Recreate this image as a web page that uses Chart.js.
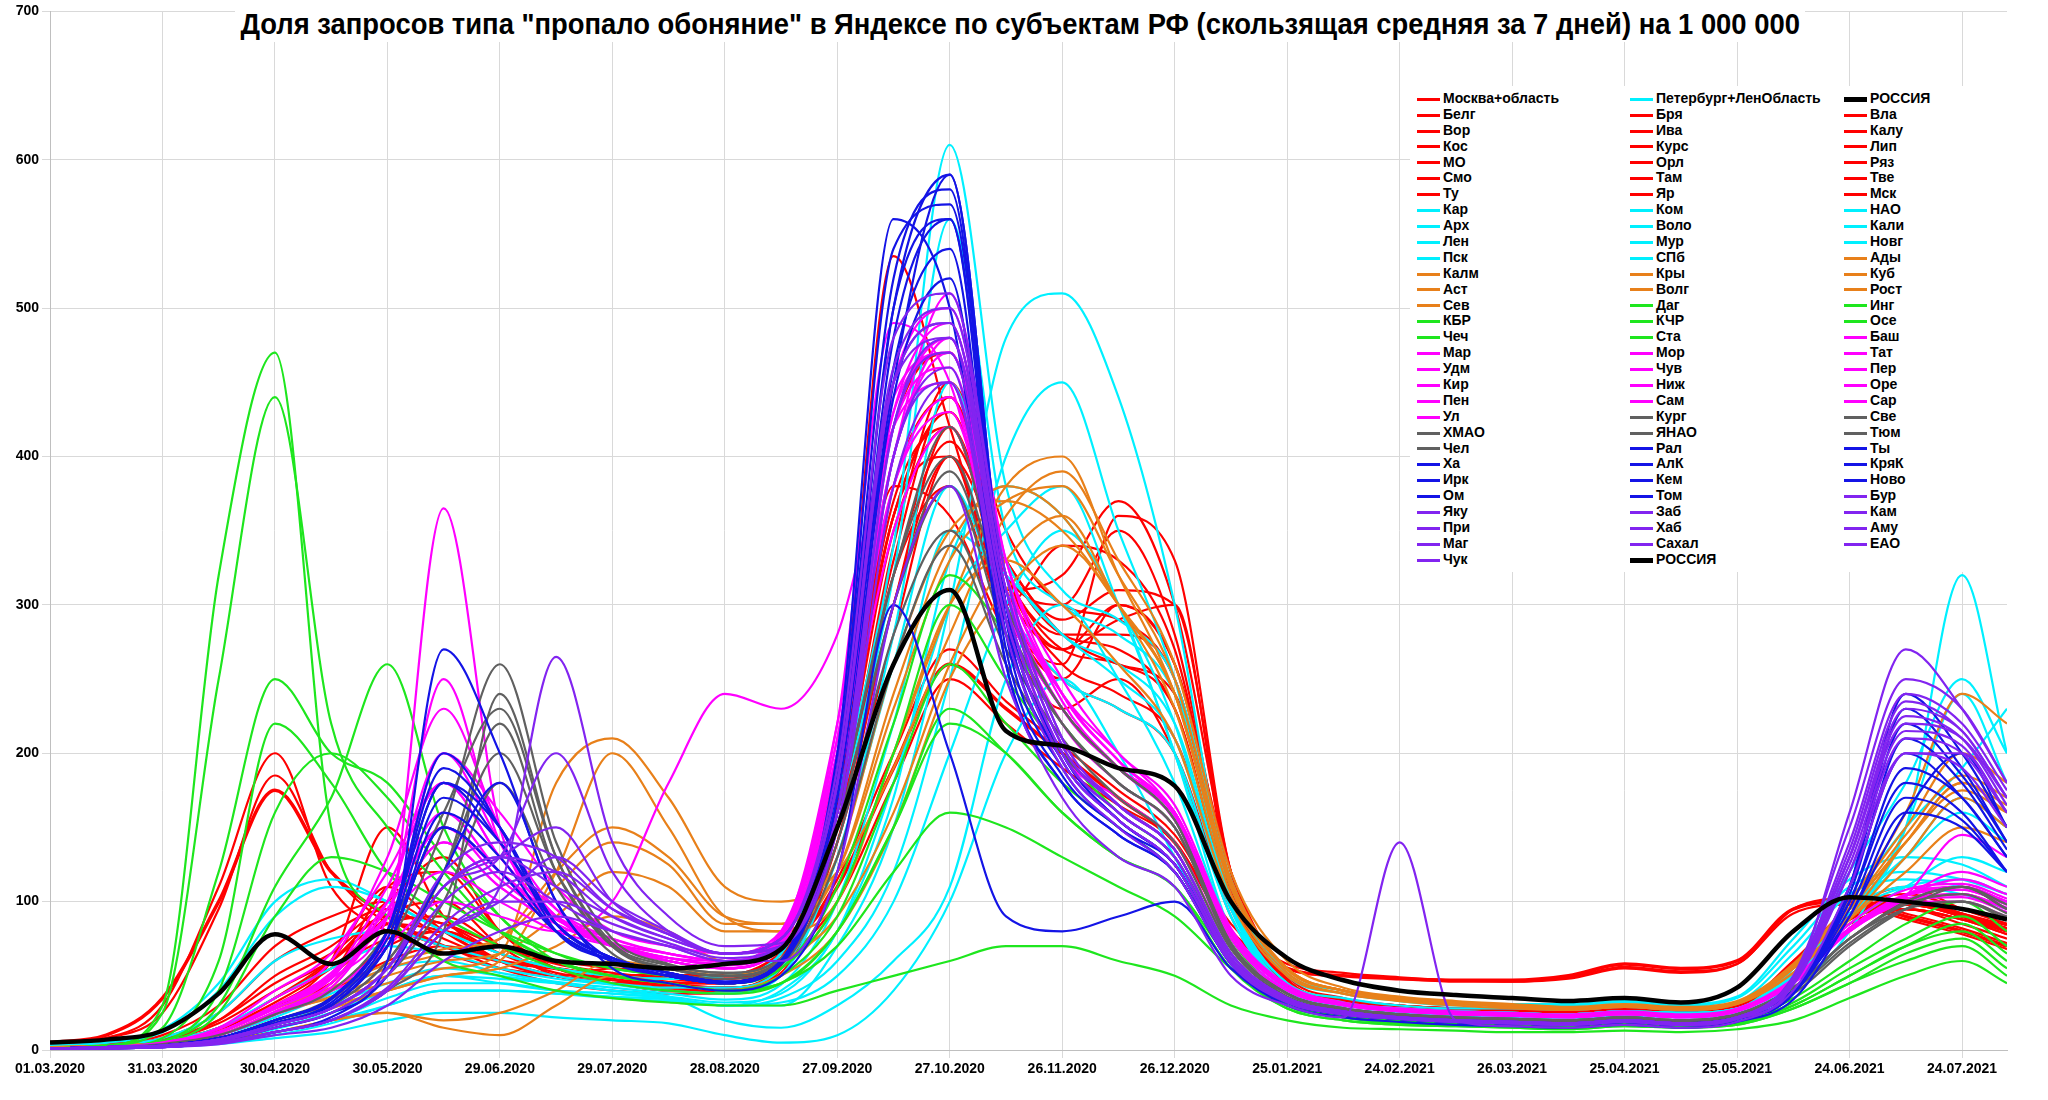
<!DOCTYPE html>
<html>
<head>
<meta charset="utf-8">
<script src="https://cdn.jsdelivr.net/npm/chart.js@4.4.1/dist/chart.umd.min.js"></script>
<style>
  body { margin: 0; background: #fff; }
  #wrap { position: relative; width: 2048px; height: 1100px; }
  #title {
    position: absolute; left: 235px; top: 6px; white-space: nowrap; transform-origin: 0 0;
    font: bold 30px "Liberation Sans", Arial, sans-serif;
    color: #000; background: #fff; line-height: 36px; padding: 0 6px;
  }
  #legend {
    position: absolute; left: 1410px; top: 86px; width: 598px; height: 486px; background: #fff;
    font: bold 14px "Liberation Sans", Arial, sans-serif;
  }
  .col { position: absolute; top: 5px; }
  .item { height: 15.9px; line-height: 15.9px; white-space: nowrap; }
  .item i { display: inline-block; width: 23px; height: 3px; vertical-align: middle; margin-right: 3px; }
</style>
</head>
<body>
<div id="wrap">
  <canvas id="chart" width="2048" height="1100"></canvas>
  <div id="title">Доля запросов типа "пропало обоняние" в Яндексе по субъектам РФ (скользящая средняя за 7 дней) на 1 000 000</div>
  <div id="legend"></div>
</div>
<script>
/* ================= DATA ================= */
const START = new Date(2020, 2, 1);
const DAYS = [0,15,30,45,60,75,90,105,120,135,150,165,180,195,210,225,240,255,270,285,300,315,330,345,360,375,390,405,420,435,450,465,480,495,510,522];
const X_TICKS = [0,30,60,90,120,150,180,210,240,270,300,330,360,390,420,450,480,510];

const RUSSIA = [5,7,13,38,78,58,80,65,70,60,58,55,58,68,150,260,310,215,205,190,178,100,62,47,40,37,35,33,35,32,42,80,103,100,95,88];
const MOSCOW_REGION = [5,10,35,100,175,120,90,70,60,55,50,50,50,65,110,190,260,230,200,170,140,80,55,50,48,47,47,50,58,55,60,95,100,90,80,70];

const RED_NAMES = ["Мск","МО","Белг","Вор","Кос","Смо","Ту","Бря","Ива","Курс","Орл","Там","Яр","Вла","Калу","Лип","Ряз","Тве"];
const RED_VALUES = [
  [4,8,30,110,200,110,80,65,55,50,45,45,45,60,100,180,250,220,190,165,140,80,55,50,48,46,46,48,55,52,58,92,98,88,78,68],
  [4,8,25,95,185,120,85,70,60,55,50,48,48,62,115,200,270,235,205,175,145,85,58,52,49,47,46,49,56,53,58,95,102,92,82,72],
  [2,3,6,15,35,60,110,80,60,50,45,40,40,55,150,300,420,300,250,300,260,120,50,35,30,28,27,26,28,26,30,55,90,100,90,80],
  [2,3,7,20,50,70,100,130,80,55,50,45,42,58,160,330,440,320,270,290,300,110,45,32,28,26,25,24,26,25,28,60,95,110,95,85],
  [1,2,4,10,25,40,60,70,60,50,55,50,45,60,170,380,360,280,230,250,200,90,40,30,27,25,24,23,25,24,27,50,85,95,85,75],
  [2,3,6,14,30,60,150,90,60,50,45,40,40,55,140,280,400,330,280,260,240,100,45,33,30,28,26,25,27,25,29,55,85,95,88,80],
  [2,4,8,25,60,80,95,75,60,50,45,45,45,60,180,360,430,320,300,350,280,110,45,34,30,28,27,26,28,27,30,60,95,105,95,85],
  [1,2,5,12,30,45,80,70,55,45,40,38,38,55,150,320,380,290,260,360,330,120,48,32,28,26,25,24,26,25,28,52,88,95,88,78],
  [1,3,6,14,35,55,75,80,65,55,50,45,45,60,200,420,470,320,260,240,210,100,45,32,28,26,25,24,26,25,28,58,92,102,92,82],
  [1,2,5,12,28,45,90,100,70,50,45,40,40,52,140,300,400,310,320,370,300,120,48,33,29,27,26,25,27,25,28,55,88,98,90,80],
  [1,2,4,10,25,40,70,80,60,50,45,42,40,55,150,340,450,350,300,290,250,110,45,32,28,26,25,24,26,24,27,52,85,95,88,78],
  [1,2,5,12,30,50,80,70,60,50,45,42,42,55,160,360,400,300,340,330,270,110,45,33,29,27,26,25,27,25,28,55,88,98,90,80],
  [1,3,6,15,35,60,90,85,70,60,55,50,48,62,190,535,420,300,250,230,200,95,42,32,28,26,25,24,26,25,28,58,90,100,92,82],
  [1,2,5,14,32,55,85,90,70,58,52,48,45,60,170,380,440,330,280,270,230,100,44,33,29,27,26,25,27,25,28,56,90,100,90,82],
  [2,4,10,30,70,90,100,80,60,50,45,45,45,60,160,350,420,310,270,300,260,110,47,34,30,28,27,26,28,27,30,58,92,102,92,84],
  [1,2,5,12,30,50,110,120,80,55,48,44,42,55,150,320,410,330,290,310,300,120,47,33,29,27,26,25,27,25,28,55,88,98,90,80],
  [1,3,7,20,45,65,90,85,65,52,47,43,42,56,165,360,430,320,280,280,250,105,45,33,29,27,26,25,27,25,28,56,90,100,90,80],
  [1,3,6,18,40,60,85,80,65,55,50,46,45,58,170,370,420,320,270,260,230,100,45,33,29,27,26,25,27,25,28,57,90,100,91,82]
];

const CYAN_NAMES = ["Петербург+ЛенОбласть","СПб","Лен","Кар","Арх","Пск","Ком","Воло","Мур","НАО","Кали","Новг"];
const CYAN_VALUES = [
  [3,5,12,40,90,110,100,80,65,55,50,48,50,65,160,320,560,350,300,280,240,110,50,38,33,30,30,30,32,30,35,70,110,120,115,105],
  [3,5,14,45,100,115,100,80,65,55,50,48,50,65,170,340,610,380,310,290,250,115,52,40,34,31,31,31,33,31,36,75,115,130,125,110],
  [2,3,8,25,60,75,80,70,60,50,45,42,42,55,130,280,450,330,280,260,220,100,45,35,30,28,28,27,29,27,32,65,105,115,110,100],
  [1,2,4,8,15,25,40,50,45,40,38,35,30,40,80,180,300,350,380,300,200,80,40,30,27,25,24,23,25,24,27,50,100,150,190,230],
  [1,2,3,6,12,20,30,40,40,38,35,33,30,35,60,120,250,400,450,350,250,100,45,32,28,26,25,24,26,25,28,50,90,130,170,150],
  [1,2,3,6,12,20,35,45,45,40,38,35,30,30,70,150,300,480,510,440,300,100,42,30,27,25,24,23,25,24,27,50,85,110,130,120],
  [1,2,3,5,10,18,30,40,40,38,36,34,30,32,50,100,200,300,350,300,200,90,40,30,27,25,24,23,25,24,27,55,120,180,250,200],
  [1,2,4,8,18,30,45,55,50,45,40,36,32,38,80,170,330,380,360,300,220,95,42,31,28,26,25,24,26,25,28,52,95,130,160,140],
  [1,2,3,6,14,25,40,50,48,45,40,36,20,15,30,60,110,250,300,250,180,80,38,28,25,23,22,21,23,22,25,45,90,150,320,200],
  [0,1,2,4,8,12,20,25,25,22,20,18,10,5,10,40,100,200,250,200,130,60,30,22,20,18,17,16,18,17,20,40,80,150,240,180],
  [2,3,6,15,35,55,70,65,55,48,44,40,38,50,130,260,380,300,250,230,200,90,42,31,28,26,25,24,26,25,28,55,95,110,105,95],
  [1,2,4,10,22,38,55,60,52,46,42,38,34,44,100,220,350,320,280,250,210,95,42,31,28,26,25,24,26,25,28,52,92,110,115,105]
];

const ORANGE_NAMES = ["Калм","Аст","Сев","Кры","Волг","Ады","Куб","Рост"];
const ORANGE_VALUES = [
  [1,2,4,8,20,30,40,50,60,120,200,150,90,80,100,200,300,380,400,320,240,110,55,40,35,32,30,28,30,28,32,55,100,160,240,220],
  [1,2,4,10,25,35,45,55,65,180,210,170,110,100,120,190,280,360,390,330,260,120,60,42,36,33,31,29,31,29,33,58,100,150,200,180],
  [1,2,3,6,12,20,25,15,10,30,50,45,40,50,80,150,250,310,340,300,240,110,55,40,35,32,30,28,30,28,32,55,90,140,180,160],
  [1,2,3,6,12,20,25,20,25,40,60,55,50,60,90,160,260,330,360,300,230,105,52,38,34,31,29,27,29,27,31,52,88,130,170,150],
  [2,3,5,12,28,40,55,65,75,120,150,130,90,85,120,230,330,370,380,320,250,115,55,40,35,32,30,28,30,28,32,56,95,140,180,165],
  [1,2,3,8,18,28,40,50,55,70,90,80,60,60,100,200,300,330,300,260,210,100,50,38,33,30,28,27,29,27,31,52,88,120,150,140],
  [1,2,4,10,24,36,50,60,65,90,120,110,80,80,120,240,340,380,360,300,240,110,54,40,35,32,30,28,30,28,32,56,95,140,175,160],
  [2,3,5,12,28,42,58,68,75,110,140,125,85,85,130,260,350,370,350,300,240,112,55,40,35,32,30,28,30,28,32,57,96,145,185,170]
];

const GREEN_NAMES = ["КБР","Чеч","Даг","КЧР","Ста","Инг","Осе"];
const GREEN_VALUES = [
  [1,2,8,60,220,180,120,90,70,55,45,40,38,45,80,150,220,200,160,130,110,60,30,22,18,17,16,15,17,16,18,30,50,70,80,60],
  [1,3,30,320,470,150,90,60,50,40,35,32,30,30,40,50,60,70,70,60,50,30,20,15,14,13,12,12,13,12,14,20,35,50,60,45],
  [1,3,25,250,440,220,150,110,80,60,50,45,40,45,70,120,160,150,130,110,90,55,28,20,17,16,15,14,16,15,17,28,45,60,70,50],
  [1,2,6,40,160,200,170,120,80,60,50,45,40,50,90,180,260,220,180,150,120,60,30,22,18,17,16,15,17,16,18,30,50,70,85,65],
  [1,2,5,25,90,130,120,100,80,65,55,50,45,55,110,220,320,280,220,180,150,75,35,25,20,18,17,16,18,17,19,35,60,85,100,80],
  [1,3,15,120,250,200,180,130,90,60,50,45,40,45,80,150,230,200,160,130,110,55,28,20,17,16,15,14,16,15,17,28,45,65,75,55],
  [1,2,6,30,110,170,260,150,90,65,55,50,45,55,100,200,300,250,200,160,130,65,32,23,19,17,16,15,17,16,18,32,55,75,90,70]
];

const MAGENTA_NAMES = ["Мар","Удм","Кир","Пен","Ул","Мор","Чув","Ниж","Сам","Баш","Тат","Пер","Оре","Сар"];
const MAGENTA_VALUES = [
  [1,2,4,10,25,40,80,365,150,90,70,60,55,75,200,400,480,300,200,170,140,70,40,30,26,24,23,22,24,22,26,45,80,100,100,90],
  [1,2,4,12,30,50,90,120,100,80,70,60,55,70,180,350,420,300,220,180,150,75,40,30,26,24,23,22,24,22,26,45,80,100,105,95],
  [1,2,4,10,25,45,100,200,140,90,70,60,55,70,190,380,440,300,230,190,160,78,42,31,27,25,24,23,25,23,27,46,82,105,110,100],
  [1,2,4,12,30,50,110,180,130,90,70,60,55,72,200,420,460,310,240,200,160,80,42,31,27,25,24,23,25,23,27,46,82,102,105,95],
  [1,2,4,12,28,48,100,150,120,90,72,62,58,75,220,490,450,300,230,190,155,78,42,31,27,25,24,23,25,23,27,46,82,100,105,96],
  [1,2,4,10,24,42,90,140,110,85,70,60,55,70,190,400,470,310,230,190,160,78,42,31,27,25,24,23,25,23,27,45,80,100,103,93],
  [1,2,5,14,35,60,130,230,150,95,72,62,57,74,210,430,490,320,240,195,160,80,42,31,27,25,24,23,25,23,27,46,82,104,108,98],
  [1,2,5,15,40,65,120,180,130,90,75,65,60,78,220,450,500,330,250,200,165,82,44,32,28,26,25,24,26,24,28,48,85,108,112,102],
  [1,2,4,12,30,50,100,160,120,88,72,62,58,74,200,420,480,320,240,195,160,80,42,31,27,25,24,23,25,23,27,46,82,104,108,98],
  [1,2,4,10,26,45,90,140,110,85,70,62,60,80,200,400,510,330,240,195,158,80,42,31,27,25,24,23,25,23,27,46,82,104,110,100],
  [1,2,4,12,30,52,95,150,115,88,72,65,60,78,210,440,470,320,235,190,155,78,42,31,27,25,24,23,25,23,27,46,82,104,115,105],
  [1,2,4,10,24,40,80,200,160,110,80,70,65,80,200,380,430,300,230,190,160,80,42,31,27,25,24,23,25,23,27,46,82,104,120,110],
  [1,2,4,10,24,40,70,100,90,80,100,180,240,230,280,420,450,300,230,190,160,80,42,31,27,25,24,23,25,23,27,46,82,104,110,100],
  [1,2,4,12,28,48,90,250,140,95,75,65,60,76,200,430,470,310,230,190,158,78,42,31,27,25,24,23,25,23,27,46,82,104,145,130]
];

const GRAY_NAMES = ["ХМАО","Чел","Кург","ЯНАО","Све","Тюм"];
const GRAY_VALUES = [
  [1,2,3,8,18,30,60,120,220,120,70,55,50,60,150,300,380,280,220,180,150,70,38,28,24,22,21,20,22,20,24,42,75,95,100,90],
  [1,2,3,8,20,35,70,150,260,140,75,58,52,62,160,320,400,300,230,190,155,72,38,28,24,22,21,20,22,20,24,42,75,100,110,95],
  [1,2,3,6,15,25,50,100,180,110,65,52,48,58,140,280,350,270,210,170,140,68,36,27,23,21,20,19,21,19,23,40,72,95,100,88],
  [0,1,2,5,12,20,40,80,240,130,70,55,50,58,130,260,340,260,200,165,135,65,35,26,22,20,19,18,20,18,22,38,70,95,110,95],
  [1,2,4,10,24,40,80,160,230,130,72,57,52,62,160,320,420,300,230,190,155,72,38,28,24,22,21,20,22,20,24,42,75,100,110,98],
  [1,2,3,8,18,30,60,120,200,120,70,55,50,60,150,300,390,290,220,180,150,70,38,28,24,22,21,20,22,20,24,42,75,98,105,92]
];

const BLUE_NAMES = ["Ха","Ирк","Ом","Рал","АлК","Кем","Том","Ты","КряК","Ново"];
const BLUE_VALUES = [
  [1,2,3,8,20,35,80,200,150,80,60,50,45,60,180,450,590,300,200,160,130,62,34,25,22,20,19,18,20,18,22,40,90,160,150,120],
  [1,2,3,6,15,25,60,270,200,100,60,50,45,58,170,480,560,280,190,150,125,60,33,24,21,19,18,17,19,17,21,38,110,200,170,130],
  [1,2,3,8,18,30,70,150,120,80,60,50,45,60,200,560,500,260,180,145,120,58,32,24,21,19,18,17,19,17,21,38,100,180,160,120],
  [1,2,3,8,20,35,80,180,140,85,62,52,46,60,190,520,580,290,195,155,125,60,33,24,21,19,18,17,19,17,21,38,95,170,155,120],
  [1,2,3,7,17,30,70,160,130,80,60,50,45,58,170,460,540,270,185,150,120,58,32,24,21,19,18,17,19,17,21,38,110,230,190,140],
  [1,2,3,8,20,34,80,190,150,85,62,52,46,60,180,500,590,300,200,155,125,60,33,24,21,19,18,17,19,17,21,38,105,210,180,135],
  [1,2,3,7,17,30,70,150,120,80,60,50,45,58,160,440,520,260,180,145,120,58,32,24,21,19,18,17,19,17,21,38,110,220,185,140],
  [0,1,2,5,12,22,50,120,180,100,55,45,40,50,120,300,200,90,80,90,100,55,30,22,19,17,16,15,17,15,19,34,90,160,200,150],
  [1,2,3,8,18,32,75,170,140,85,62,52,46,60,180,500,560,290,195,155,125,60,33,24,21,19,18,17,19,17,21,38,110,240,200,150],
  [1,2,3,8,20,35,80,180,150,85,62,52,46,60,190,540,570,300,200,155,125,60,33,24,21,19,18,17,19,17,21,38,100,190,170,130]
];

const PURPLE_NAMES = ["Яку","При","Маг","Чук","Заб","Хаб","Сахал","Бур","Кам","Аму","ЕАО"];
const PURPLE_VALUES = [
  [1,2,3,6,15,25,50,100,120,100,80,70,60,70,160,420,480,300,200,160,130,62,34,25,22,20,19,18,20,18,22,50,150,250,230,180],
  [1,2,3,7,17,28,55,110,130,120,90,75,65,75,180,460,500,320,210,165,135,65,35,26,22,20,19,18,20,18,22,45,120,200,200,160],
  [0,1,2,5,12,20,40,80,100,130,100,80,65,70,150,400,450,280,190,150,120,58,32,24,21,19,18,17,19,17,21,45,130,220,210,170],
  [0,1,2,4,10,15,30,60,80,90,80,70,60,60,120,300,380,250,170,130,110,50,30,22,140,20,16,15,17,15,19,40,110,200,190,150],
  [1,2,3,7,17,28,55,110,130,200,120,80,65,75,180,450,490,310,205,165,135,65,35,26,22,20,19,18,20,18,22,48,130,230,215,170],
  [1,2,3,7,17,28,55,110,130,150,100,78,65,75,190,480,510,320,210,165,135,65,35,26,22,20,19,18,20,18,22,48,140,240,220,175],
  [0,1,2,5,12,20,40,80,110,265,140,90,70,72,150,380,450,290,195,155,125,60,33,24,21,19,18,17,19,17,21,45,160,270,230,180],
  [1,2,3,7,17,28,55,120,140,130,95,78,65,75,180,450,490,310,205,165,135,65,35,26,22,20,19,18,20,18,22,48,130,225,210,165],
  [0,1,2,5,12,20,42,85,110,120,95,78,65,70,160,420,470,300,200,160,130,62,34,25,22,20,19,18,20,18,22,45,125,215,205,160],
  [1,2,3,7,17,28,55,110,130,110,90,75,65,75,180,450,480,310,205,165,135,65,35,26,22,20,19,18,20,18,22,48,135,235,215,170],
  [0,1,2,5,12,20,40,80,100,100,85,72,62,70,160,400,460,290,195,155,125,60,33,24,21,19,18,17,19,17,21,44,120,210,200,160]
];

// порядок легенды (по колонкам)
const LEGEND_COLS = [
  ["Москва+область","Белг","Вор","Кос","МО","Смо","Ту","Кар","Арх","Лен","Пск","Калм","Аст","Сев","КБР","Чеч","Мар","Удм","Кир","Пен","Ул","ХМАО","Чел","Ха","Ирк","Ом","Яку","При","Маг","Чук"],
  ["Петербург+ЛенОбласть","Бря","Ива","Курс","Орл","Там","Яр","Ком","Воло","Мур","СПб","Кры","Волг","Даг","КЧР","Ста","Мор","Чув","Ниж","Сам","Кург","ЯНАО","Рал","АлК","Кем","Том","Заб","Хаб","Сахал","РОССИЯ"],
  ["РОССИЯ","Вла","Калу","Лип","Ряз","Тве","Мск","НАО","Кали","Новг","Ады","Куб","Рост","Инг","Осе","Баш","Тат","Пер","Оре","Сар","Све","Тюм","Ты","КряК","Ново","Бур","Кам","Аму","ЕАО"]
];

/* ================= DATASETS ================= */
const GROUPS = [
  [RED_NAMES, RED_VALUES, "#ff0000"],
  [CYAN_NAMES, CYAN_VALUES, "#00f0ff"],
  [ORANGE_NAMES, ORANGE_VALUES, "#e8801a"],
  [GREEN_NAMES, GREEN_VALUES, "#1ee61e"],
  [MAGENTA_NAMES, MAGENTA_VALUES, "#ff00ff"],
  [GRAY_NAMES, GRAY_VALUES, "#606060"],
  [BLUE_NAMES, BLUE_VALUES, "#1414e6"],
  [PURPLE_NAMES, PURPLE_VALUES, "#8224f0"]
];

const colorOf = { "Москва+область": "#ff0000", "РОССИЯ": "#000000" };
const toPts = vals => vals.map((v, i) => ({ x: DAYS[i], y: v }));
const datasets = [];

// Chart.js рисует первый датасет поверх остальных — собираем в порядке "снизу вверх", потом разворачиваем
datasets.push({ label: "Москва+область", data: toPts(MOSCOW_REGION), borderColor: "#ff0000", borderWidth: 3.5 });
GROUPS.forEach(([names, values, color]) => {
  names.forEach((n, i) => {
    colorOf[n] = color;
    datasets.push({ label: n, data: toPts(values[i]), borderColor: color, borderWidth: 2.2 });
  });
});
datasets.push({ label: "РОССИЯ", data: toPts(RUSSIA), borderColor: "#000000", borderWidth: 4.5 });
datasets.reverse();

function fmtDay(d) {
  const dt = new Date(START.getTime() + d * 86400000);
  return String(dt.getDate()).padStart(2, "0") + "." + String(dt.getMonth() + 1).padStart(2, "0") + "." + dt.getFullYear();
}

/* ================= CHART ================= */
const tickFont = { family: "'Liberation Sans', Arial, sans-serif", size: 14, weight: "bold" };

new Chart(document.getElementById("chart"), {
  type: "line",
  data: { datasets },
  options: {
    responsive: false,
    animation: false,
    layout: { padding: { top: 10, right: 41 } },
    elements: { point: { radius: 0 }, line: { cubicInterpolationMode: "monotone" } },
    plugins: { legend: { display: false }, tooltip: { enabled: false } },
    scales: {
      x: {
        type: "linear", min: 0, max: 522,
        afterBuildTicks: s => { s.ticks = X_TICKS.map(v => ({ value: v })); },
        afterFit: s => { s.height = 50; },
        grid: { color: "#d9d9d9" },
        border: { color: "#bfbfbf" },
        ticks: { color: "#000", font: tickFont, maxRotation: 0, autoSkip: false, callback: v => fmtDay(v) }
      },
      y: {
        min: 0, max: 700,
        afterFit: s => { s.width = 50; },
        grid: { color: "#d9d9d9" },
        border: { color: "#bfbfbf" },
        ticks: { color: "#000", font: tickFont, stepSize: 100 }
      }
    }
  }
});

/* ================= TITLE / LEGEND ================= */
const titleEl = document.getElementById("title");
titleEl.style.transform = "scaleX(" + (1570 / titleEl.offsetWidth) + ")";

const legendEl = document.getElementById("legend");
const colLeft = [7, 220, 434];
LEGEND_COLS.forEach((col, ci) => {
  const div = document.createElement("div");
  div.className = "col";
  div.style.left = colLeft[ci] + "px";
  col.forEach(n => {
    const it = document.createElement("div");
    it.className = "item";
    const thick = n === "РОССИЯ" ? "height:5px;" : "";
    it.innerHTML = `<i style="background:${colorOf[n]};${thick}"></i>${n}`;
    div.appendChild(it);
  });
  legendEl.appendChild(div);
});
</script>
</body>
</html>
